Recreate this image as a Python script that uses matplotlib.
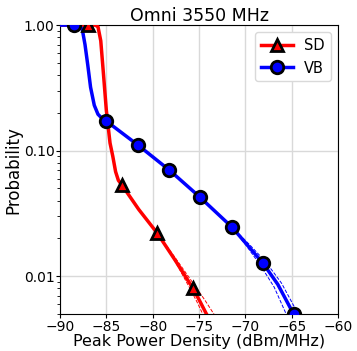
import numpy as np
import matplotlib
matplotlib.use("Agg")
import matplotlib.pyplot as plt
from matplotlib.ticker import FixedLocator, FixedFormatter, NullFormatter, LogLocator

# Curve points (dBm/MHz, probability)
SD_X = [-90.0, -86.2, -85.9, -85.6, -85.3, -85.0, -84.6, -84.3, -84.0, -83.7, -83.3,
        -81.5, -79.5, -77.6, -75.65, -74.9, -74.2, -73.9]
SD_P = [1.0, 1.0, 0.97, 0.75, 0.40, 0.21, 0.115, 0.09, 0.068, 0.058, 0.053,
        0.034, 0.022, 0.0135, 0.008, 0.0063, 0.0050, 0.0046]
SD_LO_X = [-79.5, -77.6, -75.9, -75.2, -74.6, -74.3]
SD_LO_P = [0.022, 0.0132, 0.0078, 0.0062, 0.0050, 0.0046]
SD_HI_X = [-79.5, -77.5, -75.4, -74.4, -73.4, -73.0]
SD_HI_P = [0.022, 0.0138, 0.0083, 0.0065, 0.0050, 0.0046]

VB_X = [-90.0, -88.0, -87.6, -87.3, -87.0, -86.7, -86.3, -85.9, -85.5, -85.0,
        -81.6, -78.2, -74.9, -71.45, -68.1, -66.5, -64.8, -64.5]
VB_P = [1.0, 1.0, 0.93, 0.70, 0.48, 0.32, 0.23, 0.195, 0.182, 0.172,
        0.111, 0.070, 0.0426, 0.0246, 0.0127, 0.0086, 0.0050, 0.0046]
VB_LO_X = [-71.45, -69.9, -68.4, -66.9, -65.6, -65.2]
VB_LO_P = [0.0246, 0.0175, 0.0123, 0.0082, 0.0050, 0.0046]
VB_HI_X = [-71.45, -69.6, -67.8, -66.1, -64.3, -63.9]
VB_HI_P = [0.0246, 0.0180, 0.0130, 0.0088, 0.0050, 0.0046]

# Marker points
SD_MX = [-87.0, -83.3, -79.5, -75.65]
SD_MP = [1.0, 0.053, 0.022, 0.008]
VB_MX = [-88.5, -85.0, -81.6, -78.2, -74.9, -71.45, -68.1, -64.8]
VB_MP = [1.0, 0.172, 0.111, 0.070, 0.0426, 0.0246, 0.0127, 0.0050]

fig = plt.figure(figsize=(3.57, 3.51), dpi=100)
ax = fig.add_axes([0.168, 0.1054, 0.779, 0.823])

for x, p in [(SD_LO_X, SD_LO_P), (SD_HI_X, SD_HI_P)]:
    ax.plot(x, p, "--", color="red", lw=0.7)
for x, p in [(VB_LO_X, VB_LO_P), (VB_HI_X, VB_HI_P)]:
    ax.plot(x, p, "--", color="blue", lw=0.7)

ax.plot(SD_X, SD_P, color="red", lw=2.5, zorder=3)
ax.plot(VB_X, VB_P, color="blue", lw=2.5, zorder=3)
ax.plot(SD_MX, SD_MP, "^", color="red", ms=9, mec="black", mew=2, zorder=4)
ax.plot(VB_MX, VB_MP, "o", color="blue", ms=9, mec="black", mew=2, zorder=4)

# legend handles
h1, = ax.plot([], [], "-^", color="red", lw=2.5, ms=9, mec="black", mew=2)
h2, = ax.plot([], [], "-o", color="blue", lw=2.5, ms=9, mec="black", mew=2)
ax.legend([h1, h2], ["SD", "VB"], loc="upper right", fontsize=10.5,
          framealpha=1, edgecolor="0.85", handlelength=2.2)

ax.set_yscale("log")
ax.set_xlim(-90, -60)
ax.set_ylim(0.005, 1.0)
ax.yaxis.set_major_locator(FixedLocator([0.01, 0.1, 1.0]))
ax.yaxis.set_major_formatter(FixedFormatter(["0.01", "0.10", "1.00"]))
ax.yaxis.set_minor_locator(LogLocator(base=10, subs=np.arange(2, 10)))
ax.yaxis.set_minor_formatter(NullFormatter())
ax.set_xticks([-90, -85, -80, -75, -70, -65, -60])
ax.tick_params(labelsize=10, pad=1, length=3)
ax.tick_params(which="minor", length=2)
ax.grid(True, which="major", color="0.85", lw=1)
ax.set_axisbelow(True)

ax.set_title("Omni 3550 MHz", fontsize=12.5, pad=3)
ax.set_xlabel("Peak Power Density (dBm/MHz)", fontsize=11.5, labelpad=0)
ax.set_ylabel("Probability", fontsize=12, labelpad=1)

fig.savefig("out.png", dpi=100)
